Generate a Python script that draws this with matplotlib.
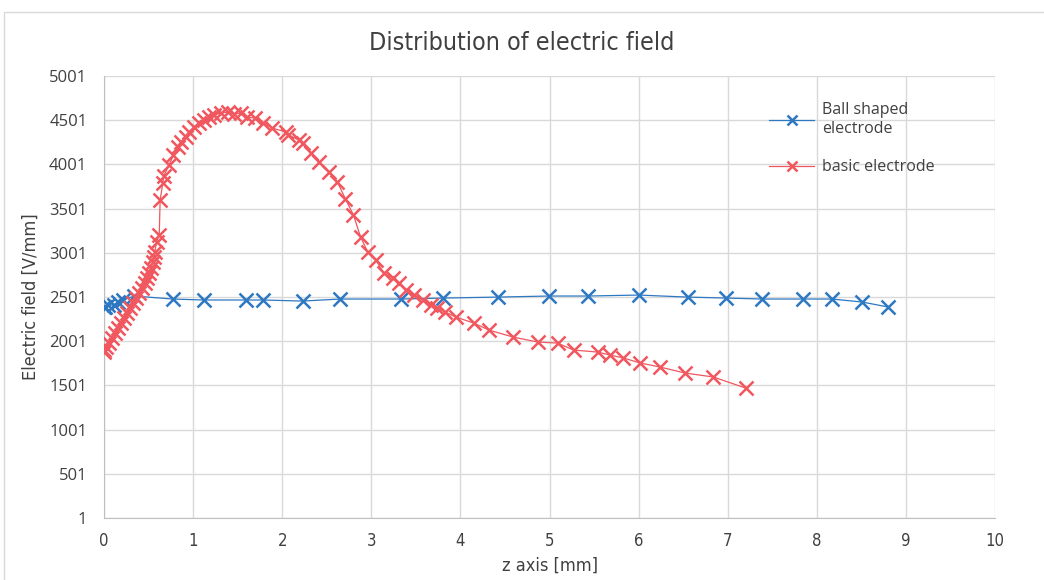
import matplotlib.pyplot as plt
from matplotlib.patches import Rectangle

# Ball shaped electrode
ball_z = [0.0, 0.01, 0.04, 0.11, 0.16, 0.21, 0.34, 0.77, 1.12, 1.59, 1.79, 2.23, 2.65,
          3.33, 3.81, 4.42, 4.99, 5.43, 6.00, 6.55, 6.98, 7.39, 7.84, 8.17, 8.51, 8.80]
ball_e = [2388, 2388, 2410, 2410, 2444, 2467, 2512, 2478, 2467, 2467, 2467, 2455, 2478,
          2478, 2489, 2500, 2512, 2512, 2523, 2500, 2489, 2478, 2478, 2478, 2444, 2388]

# basic electrode
basic_z = [0.00, 0.00, 0.02, 0.06, 0.09, 0.12, 0.16, 0.19, 0.22, 0.26, 0.29, 0.33, 0.36,
           0.39, 0.43, 0.46, 0.48, 0.50, 0.53, 0.55, 0.56, 0.57, 0.59, 0.62, 0.63, 0.66,
           0.67, 0.73, 0.78, 0.83, 0.86, 0.92, 0.95, 1.01, 1.07, 1.12, 1.18, 1.23, 1.31,
           1.39, 1.46, 1.54, 1.61, 1.70, 1.79, 1.89, 2.04, 2.07, 2.19, 2.23, 2.32, 2.41,
           2.52, 2.62, 2.71, 2.80, 2.88, 2.96, 3.05, 3.14, 3.24, 3.31, 3.39, 3.48, 3.58,
           3.67, 3.74, 3.83, 3.95, 4.15, 4.32, 4.59, 4.87, 5.09, 5.27, 5.54, 5.68, 5.83,
           6.02, 6.24, 6.52, 6.84, 7.20]
basic_e = [1901, 1878, 1935, 1980, 2037, 2093, 2150, 2206, 2263, 2320, 2376, 2433, 2489,
           2546, 2602, 2659, 2715, 2772, 2829, 2896, 2953, 3010, 3123, 3202, 3597, 3790,
           3869, 3994, 4106, 4197, 4254, 4310, 4367, 4423, 4469, 4503, 4536, 4559, 4582,
           4593, 4570, 4582, 4536, 4525, 4469, 4412, 4367, 4333, 4276, 4242, 4129, 4027,
           3914, 3801, 3609, 3428, 3179, 3010, 2919, 2772, 2715, 2659, 2580, 2523, 2467,
           2410, 2376, 2331, 2274, 2206, 2127, 2048, 1991, 1980, 1901, 1878, 1844, 1811,
           1754, 1709, 1641, 1596, 1471]

yticks = [1, 501, 1001, 1501, 2001, 2501, 3001, 3501, 4001, 4501, 5001]
xticks = list(range(0, 11))

blue = '#2e78c2'
red = '#f0575e'
txt = '#404040'
narrow = dict(family=['DejaVu Sans'], stretch='condensed')

fig = plt.figure(figsize=(10.44, 5.8), dpi=100)
fig.patches.append(Rectangle((4 / 1044, -0.1), 1.2, (580 - 12) / 580 + 0.1,
                             transform=fig.transFigure, fill=False,
                             edgecolor='#d9d9d9', linewidth=1.0))
ax = fig.add_axes([104 / 1044, 62 / 580, 891 / 1044, 442 / 580])

ax.plot(ball_z, ball_e, color=blue, linewidth=0.9, marker='x', markersize=10.5,
        markeredgewidth=1.8, label='Ball shaped\nelectrode', zorder=3)
ax.plot(basic_z, basic_e, color=red, linewidth=0.9, marker='x', markersize=10.5,
        markeredgewidth=1.8, label='basic electrode', zorder=4)

ax.set_xlim(0, 10)
ax.set_ylim(1, 5001)
ax.set_xticks(xticks)
ax.set_yticks(yticks)
ax.grid(True, color='#d9d9d9', linewidth=1.0)
ax.set_axisbelow(True)
for s in ['top', 'right']:
    ax.spines[s].set_visible(False)
for s in ['left', 'bottom']:
    ax.spines[s].set_color('#bfbfbf')
ax.tick_params(length=0, labelsize=12, colors=txt)
ax.tick_params(axis='x', pad=10)
ax.tick_params(axis='y', pad=12)
for lab in ax.get_yticklabels():
    lab.set_family(['Open Sans', 'DejaVu Sans'])
for lab in ax.get_xticklabels():
    lab.set_family(['DejaVu Sans'])
    lab.set_stretch('condensed')

ax.set_xlabel('z axis [mm]', fontsize=13, color=txt, labelpad=5, **narrow)
ax.set_ylabel('Electric field [V/mm]', fontsize=13, color=txt, labelpad=7, **narrow)
fig.text(0.5, 1 - 43 / 580, 'Distribution of electric field', ha='center', va='center',
         fontsize=18, color=txt, **narrow)

leg = ax.legend(loc='upper left', bbox_to_anchor=(755 / 1044, 1 - 88 / 580),
                bbox_transform=fig.transFigure, frameon=False, fontsize=11.5,
                handlelength=2.8, labelspacing=1.4, handletextpad=0.5, markerscale=0.75)
for t in leg.get_texts():
    t.set_color(txt)
    t.set_family(['Open Sans', 'DejaVu Sans'])

fig.savefig('out.png', dpi=100)
